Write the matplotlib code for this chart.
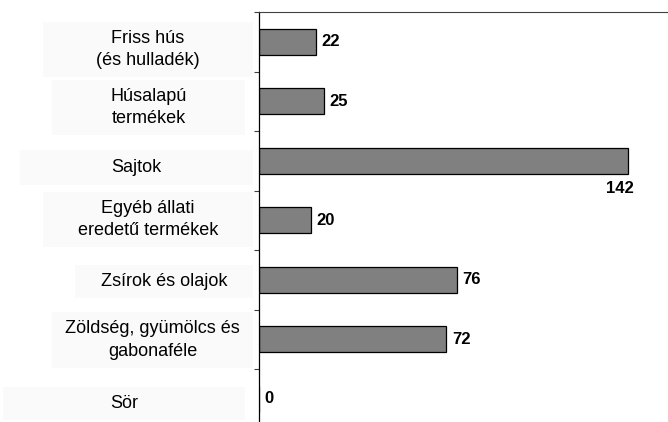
import numpy as np
import matplotlib
matplotlib.use('Agg')
import matplotlib.pyplot as plt
from matplotlib.patches import Rectangle

plt.rcParams['font.family'] = ['Liberation Sans', 'DejaVu Sans']

## data
categories = ['Friss hús\n(és hulladék)', 'Húsalapú\ntermékek', 'Sajtok',
              'Egyéb állati\neredetű termékek', 'Zsírok és olajok',
              'Zöldség, gyümölcs és\ngabonaféle', 'Sör']
values = [22, 25, 142, 20, 76, 72, 0]

## label boxes (pixels: left, top, right, bottom)
boxes = [(43, 22, 253, 77), (52, 80, 245, 135), (20, 150, 253, 185),
         (43, 192, 253, 247), (75, 265, 253, 298), (52, 312, 253, 368),
         (3, 387, 245, 420)]

W, H = 668, 422
fig = plt.figure(figsize=(W/100, H/100), dpi=100)

## axes: left edge at x=259px, top at y=12px, category pitch 59.5px
top = 12
pitch = 59.5
left = 259
ax = fig.add_axes([left/W, 1-(top+7*pitch)/H, 1-left/W, 7*pitch/H])

y = np.arange(len(categories))
ax.barh(y, values, height=0.44, color='#808080', edgecolor='black', linewidth=0.9)
ax.set_ylim(6.5, -0.5)
ax.set_xlim(0, (W-left)/2.6)

for i, v in enumerate(values):
    if v > 120:
        ax.annotate(str(v), (v, i+0.22), xytext=(4, -5), textcoords='offset points',
                    ha='right', va='top', fontsize=12, fontweight='bold')
    else:
        ax.annotate(str(v), (v, i), xytext=(4, 0), textcoords='offset points',
                    ha='left', va='center', fontsize=12, fontweight='bold')

for s in ['right', 'bottom']:
    ax.spines[s].set_visible(False)
ax.spines['top'].set_color('#404040')
ax.spines['top'].set_linewidth(0.8)
ax.spines['left'].set_color('black')
ax.spines['left'].set_linewidth(0.9)

ax.set_xticks([])
ax.set_yticks(np.arange(-0.5, 7.0, 1.0))
ax.set_yticklabels([])
ax.tick_params(axis='y', direction='out', length=3.5, width=0.8, color='#404040')

## category labels in faint boxes
for lab, (x0, y0, x1, y1) in zip(categories, boxes):
    fig.add_artist(Rectangle((x0/W, 1-y1/H), (x1-x0)/W, (y1-y0)/H,
                             transform=fig.transFigure, facecolor='#fafafa',
                             edgecolor='none', zorder=0))
    fig.text((x0+x1)/2/W, 1-(y0+y1)/2/H, lab, ha='center', va='center',
             fontsize=13, linespacing=1.45, multialignment='center')

fig.savefig('out.png', dpi=100)
